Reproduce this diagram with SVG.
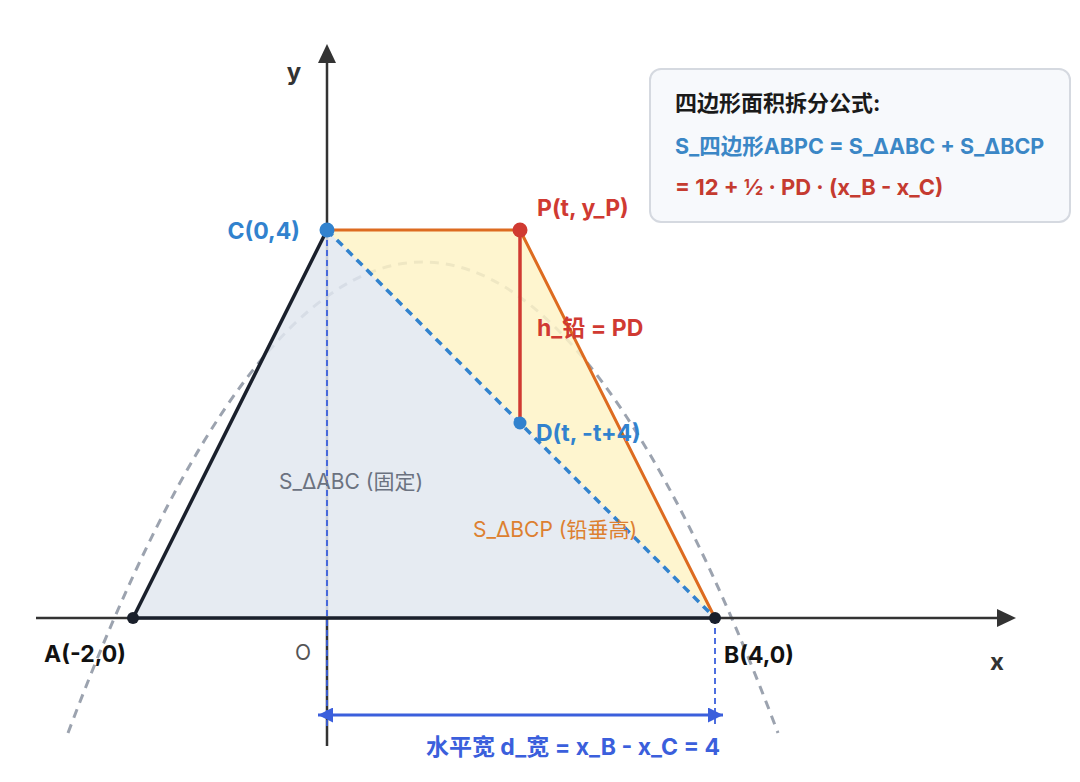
<svg xmlns="http://www.w3.org/2000/svg" width="1080" height="782" viewBox="0 0 1080 782">
<defs>
<style>
text{font-family:Inter,"Liberation Sans","Noto Sans CJK SC",sans-serif}
.b{font-weight:700}
.axis{stroke:#333;stroke-width:2.5;fill:none}
.blk{stroke:#1a202c;stroke-width:3.5;fill:none;stroke-linecap:round}
.org{stroke:#dd6b20;stroke-width:3;fill:none;stroke-linecap:round}
.bdash{stroke:#3182ce;stroke-width:3.5;fill:none;stroke-dasharray:8 6}
.red{stroke:#d03a32;stroke-width:3.5;fill:none}
.guide{stroke:#3b5fdc;stroke-width:1.8;fill:none;stroke-dasharray:6 4}
.dim{stroke:#3b5fdc;stroke-width:3;fill:none}
</style>
<marker id="dh" viewBox="0 0 10 10" refX="10" refY="5" markerWidth="16" markerHeight="15" markerUnits="userSpaceOnUse" orient="auto-start-reverse">
<path d="M0,0 L10,5 L0,10 z" fill="#3b5fdc"/>
</marker>
</defs>
<rect width="1080" height="782" fill="#ffffff"/>

<g id="parabola">
<path d="M68,733 Q423,-209 778,733" fill="none" stroke="#9ca3af" stroke-width="3" stroke-dasharray="9 7"/>
</g>

<g id="axes">
<line x1="36" y1="618" x2="1000" y2="618" class="axis"/>
<path d="M997,609 L1016,618 L997,627 z" fill="#333"/>
<line x1="327" y1="746" x2="327" y2="62" class="axis"/>
<path d="M318,63 L327,44 L336,63 z" fill="#333"/>
</g>

<g id="regions">
<polygon id="triABC" points="133,618 715,618 327,230" fill="#e2e8f0" opacity="0.85"/>
<polygon id="triBCP" points="327,230 520,230 715,618" fill="#fef3c7" opacity="0.85"/>
</g>

<g id="connectors">
<line x1="327" y1="230" x2="327" y2="728" class="guide"/>
<line x1="715" y1="618" x2="715" y2="724" class="guide"/>
<line x1="133" y1="618" x2="715" y2="618" class="blk"/>
<line x1="133" y1="618" x2="327" y2="230" class="blk"/>
<line x1="327" y1="230" x2="520" y2="230" class="org"/>
<line x1="520" y1="230" x2="715" y2="618" class="org"/>
<line x1="327" y1="230" x2="715" y2="618" class="bdash"/>
<line x1="520" y1="230" x2="520" y2="423" class="red"/>
<line x1="318" y1="715" x2="723" y2="715" class="dim" marker-start="url(#dh)" marker-end="url(#dh)"/>
</g>

<g id="node-A"><circle cx="133" cy="618" r="6" fill="#1a202c"/><text x="85" y="662" class="b" font-size="23" fill="#111" text-anchor="middle">A(-2,0)</text></g>
<g id="node-B"><circle cx="715" cy="618" r="6" fill="#1a202c"/><text x="724" y="663" class="b" font-size="23" fill="#111">B(4,0)</text></g>
<g id="node-C"><circle cx="327" cy="230" r="7.5" fill="#3182ce"/><text x="300" y="239" class="b" font-size="23" fill="#3182ce" text-anchor="end">C(0,4)</text></g>
<g id="node-P"><circle cx="520" cy="230" r="7.5" fill="#d03a32"/><text x="537" y="216" class="b" font-size="23" fill="#d03a32">P(t, y_P)</text></g>
<g id="node-D"><circle cx="520" cy="423" r="6.5" fill="#3182ce"/><text x="536" y="441" class="b" font-size="23" fill="#3182ce">D(t, -t+4)</text></g>

<g id="labels">
<text x="294" y="80" class="b" font-size="24" fill="#333" text-anchor="middle">y</text>
<text x="997" y="670" class="b" font-size="24" fill="#333" text-anchor="middle">x</text>
<text x="303" y="660" font-size="21" fill="#555" text-anchor="middle">O</text>
<text x="537" y="336" class="b" font-size="23" fill="#d03a32">h_铅 = PD</text>
<text x="279" y="489" font-size="21" fill="#6b7280">S_ΔABC (固定)</text>
<text x="473" y="537" font-size="21" fill="#dd8030">S_ΔBCP (铅垂高)</text>
<text x="573" y="755" class="b" font-size="23" fill="#3b5fdc" text-anchor="middle">水平宽 d_宽 = x_B - x_C = 4</text>
</g>

<g id="formula-box">
<rect x="650" y="69" width="420" height="153" rx="11" fill="#f7f9fc" stroke="#d5d9e0" stroke-width="2"/>
<text x="675" y="111" class="b" font-size="22" fill="#1a1a1a">四边形面积拆分公式:</text>
<text x="675" y="154" class="b" font-size="21.5" fill="#3b87c6">S_四边形ABPC = S_ΔABC + S_ΔBCP</text>
<text x="675" y="195" class="b" font-size="22" fill="#c53b30">= 12 + ½ · PD · (x_B - x_C)</text>
</g>
</svg>
